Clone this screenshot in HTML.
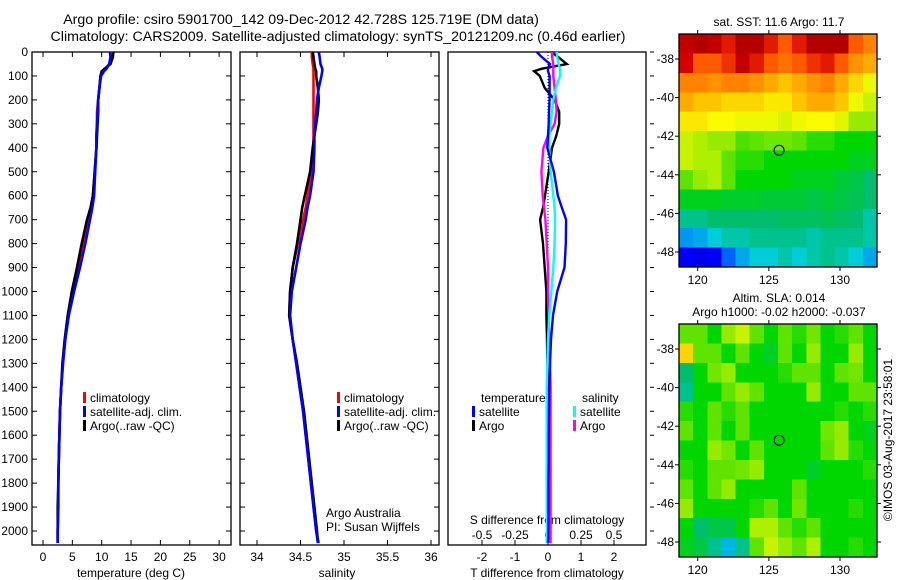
<!DOCTYPE html>
<html><head><meta charset="utf-8">
<style>
html,body{margin:0;padding:0;background:#fff;}
svg{display:block;font-family:"Liberation Sans",sans-serif;font-size:12px;}
</style></head>
<body>
<svg id="fig" width="900" height="580" viewBox="0 0 900 580">
<rect x="0" y="0" width="900" height="580" fill="#fff"/>
<text x="301" y="24" text-anchor="middle" style="font-size:14.2px">Argo profile: csiro 5901700_142 09-Dec-2012 42.728S 125.719E (DM data)</text>
<text x="338" y="41" text-anchor="middle" style="font-size:14.2px">Climatology: CARS2009. Satellite-adjusted climatology: synTS_20121209.nc (0.46d earlier)</text>
<g id="g"></g>
</svg>
<script>
// ---------- data ----------
const depthTicks=[0,100,200,300,400,500,600,700,800,900,1000,1100,1200,1300,1400,1500,1600,1700,1800,1900,2000];
const tTicks=[0,5,10,15,20,25,30];
const sTicks=[34,34.5,35,35.5,36];
const sTickLabels=["34","34.5","35","35.5","36"];
const dtTicks=[-2,-1,0,1,2];
const dsTicks=[-0.5,-0.25,0,0.25,0.5];
const dsTickLabels=["-0.5","-0.25","0","0.25","0.5"];

const depths=[0,20,50,70,80,100,150,200,250,300,350,400,500,600,650,700,800,900,1000,1100,1200,1300,1400,1500,1600,1700,1800,1900,2000,2050];
const tArgo=[12.0,11.9,11.5,10.5,10.0,9.8,9.6,9.4,9.4,9.3,9.2,9.1,8.8,8.5,8.1,7.5,6.6,5.8,4.9,4.2,3.7,3.3,3.1,2.9,2.8,2.7,2.6,2.5,2.5,2.5];
const tClim=[11.7,11.6,11.3,10.6,10.2,9.8,9.6,9.4,9.2,9.2,9.1,9.1,8.8,8.5,8.2,7.7,6.9,6.0,5.1,4.3,3.8,3.4,3.1,2.9,2.8,2.7,2.6,2.6,2.5,2.5];
const tSat=[11.4,11.5,11.3,10.8,10.4,9.9,9.6,9.4,9.3,9.2,9.1,9.1,8.9,8.7,8.4,8.0,7.2,6.3,5.3,4.4,3.8,3.4,3.1,2.9,2.8,2.7,2.6,2.6,2.5,2.5];
const sArgo=[34.64,34.65,34.66,34.67,34.68,34.68,34.70,34.71,34.70,34.68,34.66,34.64,34.61,34.55,34.52,34.50,34.46,34.41,34.38,34.37,34.41,34.46,34.50,34.54,34.57,34.60,34.63,34.66,34.69,34.70];
const sClim=[34.63,34.63,34.64,34.65,34.65,34.65,34.65,34.65,34.65,34.65,34.65,34.65,34.63,34.58,34.56,34.53,34.47,34.41,34.38,34.37,34.41,34.45,34.49,34.53,34.56,34.59,34.62,34.65,34.68,34.71];
const sSat=[34.71,34.72,34.73,34.75,34.75,34.74,34.71,34.69,34.68,34.67,34.66,34.66,34.65,34.61,34.58,34.56,34.50,34.45,34.40,34.38,34.41,34.45,34.49,34.53,34.56,34.59,34.62,34.65,34.68,34.70];
const dtSat=[-0.34,-0.2,0.06,0.0,0.0,0.05,0.05,0.05,0.03,0.02,0.0,-0.02,0.18,0.3,0.42,0.55,0.54,0.5,0.28,0.15,0.09,0.06,0.04,0.03,0.02,0.02,0.01,0.01,0.01,0.0];
const dtArgo=[0.1,0.3,0.57,-0.2,-0.42,-0.25,-0.1,0.2,0.34,0.34,0.25,0.12,0.02,-0.09,-0.15,-0.24,-0.15,-0.1,-0.05,-0.05,-0.03,-0.02,-0.02,-0.01,0.0,0.0,0.0,0.0,0.0,0.0];
const dsSat=[0.066,0.07,0.08,0.09,0.09,0.09,0.06,0.04,0.03,0.02,0.01,0.01,0.02,0.04,0.05,0.053,0.05,0.04,0.025,0.01,0.0,-0.005,-0.01,-0.01,-0.01,-0.01,-0.01,-0.01,-0.01,-0.01];
const dsArgo=[0.03,0.03,0.04,0.04,0.04,0.04,0.05,0.06,0.065,0.05,0.0,-0.035,-0.05,-0.04,-0.03,-0.02,-0.01,0.0,0.0,0.005,0.01,0.015,0.02,0.02,0.02,0.02,0.02,0.02,0.02,0.02];

const latTicks=[-38,-40,-42,-44,-46,-48];
const lonTicks=[120,125,130];
const floatLon=125.719, floatLat=-42.728;
const sstGrid=[
[0.95,0.97,0.95,0.9,0.97,0.97,0.9,0.85,0.9,0.97,0.97,0.97,0.85,0.8],
[0.92,0.85,0.85,0.88,0.95,0.9,0.85,0.82,0.85,0.88,0.9,0.85,0.78,0.75],
[0.8,0.8,0.78,0.8,0.8,0.78,0.75,0.72,0.75,0.78,0.8,0.75,0.7,0.65],
[0.75,0.72,0.72,0.7,0.7,0.7,0.68,0.68,0.72,0.75,0.75,0.72,0.65,0.62],
[0.68,0.68,0.66,0.66,0.65,0.65,0.65,0.63,0.65,0.66,0.66,0.64,0.58,0.58],
[0.62,0.6,0.58,0.58,0.54,0.55,0.56,0.56,0.55,0.52,0.52,0.5,0.5,0.5],
[0.62,0.6,0.6,0.55,0.52,0.52,0.5,0.5,0.5,0.5,0.5,0.5,0.48,0.48],
[0.55,0.58,0.6,0.55,0.5,0.5,0.5,0.5,0.48,0.48,0.48,0.46,0.45,0.42],
[0.48,0.48,0.48,0.47,0.47,0.47,0.46,0.46,0.46,0.45,0.46,0.45,0.44,0.42],
[0.4,0.4,0.42,0.42,0.42,0.42,0.42,0.43,0.43,0.43,0.44,0.43,0.42,0.38],
[0.28,0.3,0.35,0.38,0.38,0.4,0.4,0.4,0.4,0.38,0.4,0.4,0.4,0.38],
[0.12,0.1,0.12,0.22,0.3,0.35,0.35,0.38,0.35,0.38,0.4,0.38,0.35,0.3]];
const slaGrid=[
[0.55,0.55,0.5,0.58,0.62,0.55,0.5,0.55,0.52,0.56,0.5,0.52,0.55,0.5],
[0.7,0.55,0.55,0.5,0.55,0.5,0.47,0.55,0.5,0.58,0.5,0.5,0.58,0.5],
[0.42,0.5,0.56,0.58,0.5,0.5,0.5,0.52,0.55,0.55,0.5,0.55,0.56,0.5],
[0.4,0.5,0.5,0.55,0.58,0.55,0.5,0.5,0.5,0.58,0.5,0.5,0.55,0.55],
[0.52,0.5,0.55,0.52,0.55,0.5,0.5,0.5,0.5,0.5,0.5,0.52,0.5,0.52],
[0.55,0.5,0.55,0.5,0.55,0.5,0.5,0.5,0.5,0.5,0.56,0.58,0.5,0.48],
[0.5,0.5,0.58,0.56,0.5,0.55,0.5,0.5,0.5,0.5,0.55,0.58,0.52,0.5],
[0.52,0.5,0.55,0.55,0.56,0.58,0.5,0.5,0.5,0.47,0.5,0.5,0.5,0.52],
[0.55,0.5,0.55,0.58,0.5,0.5,0.5,0.5,0.55,0.5,0.5,0.5,0.5,0.5],
[0.58,0.5,0.5,0.5,0.5,0.52,0.55,0.5,0.56,0.5,0.5,0.5,0.52,0.5],
[0.5,0.42,0.45,0.45,0.5,0.6,0.6,0.55,0.52,0.55,0.5,0.5,0.5,0.5],
[0.48,0.45,0.4,0.32,0.4,0.55,0.62,0.58,0.55,0.6,0.5,0.5,0.52,0.5]];

// ---------- helpers ----------
const NS="http://www.w3.org/2000/svg";
const G=document.getElementById('g');
function mk(tag,at,parent){const e=document.createElementNS(NS,tag);for(const k in at)e.setAttribute(k,at[k]);(parent||G).appendChild(e);return e;}
function txt(x,y,s,anchor){const e=mk('text',{x:x,y:y,'text-anchor':anchor||'start'});e.textContent=s;return e;}
const yD=d=>52+d*0.2395;
const PT={x0:32,x1:231}, PS={x0:240,x1:439}, PD={x0:448,x1:646};
const yTop=52,yBot=545;
const xT=v=>43+v*5.87;
const xS=v=>257+(v-34)*87;
const xDT=v=>548+v*33;
const xDS=v=>548+v*132;

function frame(p,name){
  const r=mk('rect',{x:p.x0,y:yTop,width:p.x1-p.x0,height:yBot-yTop,fill:'none',stroke:'#000','stroke-width':1.3});
  
  
}
function yTicks(p,left,right){
  depthTicks.forEach(d=>{const y=yD(d);
    if(left) mk('line',{x1:p.x0,y1:y,x2:p.x0+5,y2:y,stroke:'#000'});
    if(right) mk('line',{x1:p.x1,y1:y,x2:p.x1-5,y2:y,stroke:'#000'});
  });
}
function xTicks(vals,fx){vals.forEach(v=>{const x=fx(v);
  mk('line',{x1:x,y1:yBot,x2:x,y2:yBot-5,stroke:'#000'});
  mk('line',{x1:x,y1:yTop,x2:x,y2:yTop+5,stroke:'#000'});});}
function line(xs,fx,col,name,w){
  const pts=depths.map((d,i)=>fx(xs[i]).toFixed(1)+','+yD(d).toFixed(1)).join(' ');
  const e=mk('polyline',{points:pts,fill:'none',stroke:col,'stroke-width':w||2.6});
  
  
}
function legend(x,y,col,label,name){
  mk('rect',{x:x,y:y-10,width:3,height:11,fill:col});
  const t=txt(x+7,y,label);
  
  
}

// ---------- panel 1 temperature ----------
frame(PT,'temperature-panel');
yTicks(PT,true,true);
depthTicks.forEach(d=>{const t=txt(28,yD(d)+4,String(d),'end');
  
  });
xTicks(tTicks,xT);
tTicks.forEach(v=>{txt(xT(v),561,String(v),'middle');});
let tt=txt(131,577,'temperature (deg C)','middle');


line(tClim,xT,'#f00','temperature-climatology-line');
line(tArgo,xT,'#000','temperature-argo-line');
line(tSat,xT,'#00f','temperature-satellite-line');
legend(83,402,'#f00','climatology','legend-climatology');
legend(83,416,'#00f','satellite-adj. clim.','legend-satellite-adj');
legend(83,430,'#000','Argo(..raw -QC)','legend-argo');

// ---------- panel 2 salinity ----------
frame(PS,'salinity-panel');
yTicks(PS,true,true);
xTicks(sTicks,xS);
sTicks.forEach((v,i)=>{txt(xS(v),561,sTickLabels[i],'middle');});
let st=txt(337,577,'salinity','middle');


line(sClim,xS,'#f00','salinity-climatology-line');
line(sArgo,xS,'#000','salinity-argo-line');
line(sSat,xS,'#00f','salinity-satellite-line');
legend(337,402,'#f00','climatology','legend-climatology-s');
legend(337,416,'#00f','satellite-adj. clim.','legend-satellite-adj-s');
legend(337,430,'#000','Argo(..raw -QC)','legend-argo-s');
let aa=txt(326,517,'Argo Australia');
let pi=txt(326,531,'PI: Susan Wijffels');

// ---------- panel 3 differences ----------
frame(PD,'difference-panel');
depthTicks.forEach(d=>{mk('line',{x1:PD.x1+4,y1:yD(d),x2:PD.x1+8,y2:yD(d),stroke:'#000'});});
dtTicks.forEach(v=>{const x=xDT(v);mk('line',{x1:x,y1:yBot,x2:x,y2:yBot-5,stroke:'#000'});txt(x,561,String(v),'middle');});
dsTicks.forEach((v,i)=>{txt(xDS(v),539,dsTickLabels[i],'middle');});
mk('line',{x1:548,y1:yTop,x2:548,y2:yBot,stroke:'#000','stroke-dasharray':'1,2','stroke-width':1});
let dt=txt(547,577,'T difference from climatology','middle');
let ds=txt(547,524,'S difference from climatology','middle');
line(dtArgo,xDT,'#000','t-diff-argo-line',2.4);
line(dsArgo,xDS,'#f0f','s-diff-argo-line',2.4);
line(dsSat,xDS,'#0ff','s-diff-satellite-line',2.4);
line(dtSat,xDT,'#00f','t-diff-satellite-line',2.4);
txt(481,402,'temperature');txt(582,402,'salinity');
legend(472,416,'#00f','satellite','legend-t-satellite');
legend(472,430,'#000','Argo','legend-t-argo');
legend(573,416,'#0ff','satellite','legend-s-satellite');
legend(573,430,'#f0f','Argo','legend-s-argo');

// ---------- maps ----------
const cmapStops=[[0,0,0,140],[0.12,0,0,255],[0.25,0,128,255],[0.35,0,205,215],[0.42,0,190,110],[0.5,0,215,0],[0.58,150,235,0],[0.66,250,250,0],[0.75,255,170,0],[0.85,255,90,0],[0.92,215,0,0],[1,160,0,0]];
function cmap(v){
  for(let i=1;i<cmapStops.length;i++){
    const a=cmapStops[i-1],b=cmapStops[i];
    if(v<=b[0]){const f=(v-a[0])/(b[0]-a[0]);
      return 'rgb('+Math.round(a[1]+f*(b[1]-a[1]))+','+Math.round(a[2]+f*(b[2]-a[2]))+','+Math.round(a[3]+f*(b[3]-a[3]))+')';}
  }
  return 'rgb(160,0,0)';
}
function map(grid,y0,y1,name){
  const x0=679,x1=877;
  const lonX=l=>697.7+(l-120)*14.23;
  const latY=l=>(y0+25)+(-38-l)*19.3;
  const g=mk('g',{'shape-rendering':'crispEdges'});
  
  
  const rows=grid.length, cols=grid[0].length;
  const cw=(x1-x0)/cols, ch=(y1-y0)/rows;
  grid.forEach((row,r)=>row.forEach((v,c)=>{
    mk('rect',{x:(x0+c*cw).toFixed(2),y:(y0+r*ch).toFixed(2),width:(cw+0.6).toFixed(2),height:(ch+0.6).toFixed(2),fill:cmap(v)},g);
  }));
  mk('rect',{x:x0,y:y0,width:x1-x0,height:y1-y0,fill:'none',stroke:'#000','stroke-width':1.3});
  latTicks.forEach(l=>{const y=latY(l);
    mk('line',{x1:x0-4,y1:y,x2:x0,y2:y,stroke:'#000'});
    mk('line',{x1:x1,y1:y,x2:x1+4,y2:y,stroke:'#000'});
    txt(x0-5,y+4,String(l),'end');});
  lonTicks.forEach(l=>{const x=lonX(l);
    mk('line',{x1:x,y1:y1,x2:x,y2:y1+4,stroke:'#000'});
    mk('line',{x1:x,y1:y0-4,x2:x,y2:y0,stroke:'#000'});
    txt(x,y1+17,String(l),'middle');});
  const m=mk('circle',{cx:lonX(floatLon),cy:latY(floatLat),r:5,fill:'none',stroke:'#000','stroke-width':1});
  
  
}
map(sstGrid,34,267,'sst-map');
map(slaGrid,324,557,'sla-map');
let t1=txt(779,26,'sat. SST: 11.6 Argo: 11.7','middle');
let t2=txt(779,302,'Altim. SLA: 0.014','middle');
let t3=txt(779,316,'Argo h1000: -0.02 h2000: -0.037','middle');
let cp=txt(0,0,'\u00a9IMOS 03-Aug-2017 23:58:01','middle');
cp.setAttribute('transform','translate(892,440) rotate(-90)');


</script>
</body></html>
